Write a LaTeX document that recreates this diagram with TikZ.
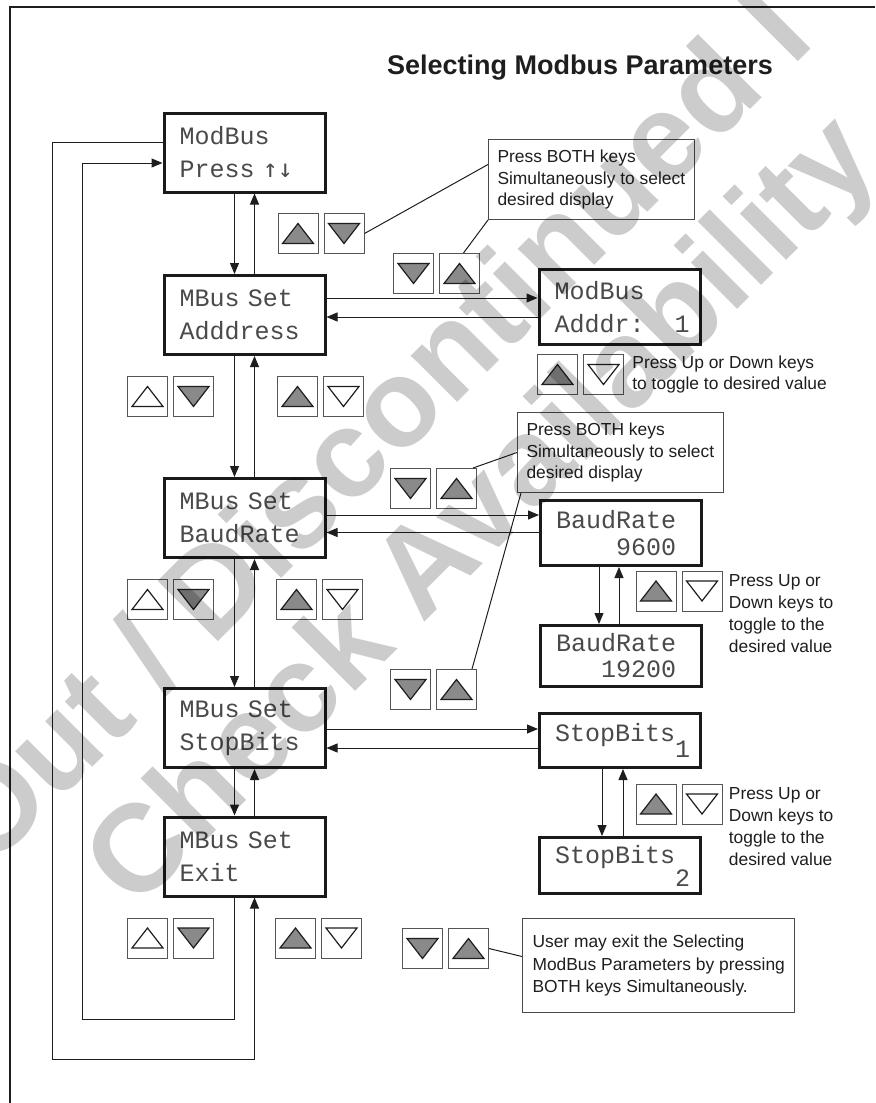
\documentclass[tikz,border=0pt]{standalone}
\usepackage{fontspec}
\setmainfont{Liberation Sans}
\newfontfamily\lcdfont{Liberation Mono}
\newfontfamily\arrowfont{DejaVu Sans Mono}
\usetikzlibrary{arrows.meta,positioning}
\definecolor{LineDark}{HTML}{1E1E1E}
\definecolor{LcdEdge}{HTML}{1A1A1A}
\definecolor{LcdText}{HTML}{4A4A4A}
\definecolor{KeyEdge}{HTML}{555555}
\definecolor{KeyFill}{HTML}{8A8A8A}
\definecolor{NoteEdge}{HTML}{4A4A4A}

\begin{document}
\begin{tikzpicture}[x=0.5pt,y=-0.5pt,
  lcd/.style={draw=LcdEdge,line width=1.5pt,fill=white,minimum width=80pt,minimum height=39.5pt,
    inner xsep=7.75pt,inner ysep=0pt,text width=65pt,align=left,text=LcdText,
    font=\lcdfont\fontsize{12.5}{16.5}\selectfont},
  keysq/.style={draw=KeyEdge,line width=0.5pt,fill=white,minimum size=20pt,inner sep=0pt},
  tri/.style={draw=LineDark,line width=0.6pt},
  upkey/.style={keysq,path picture={\filldraw[tri,fill=#1]
    ([shift={(-7.75pt,-5pt)}]path picture bounding box.center) -- ++(15.5pt,0pt) -- ++(-7.75pt,10pt) -- cycle;}},
  dnkey/.style={keysq,path picture={\filldraw[tri,fill=#1]
    ([shift={(-7.75pt,5pt)}]path picture bounding box.center) -- ++(15.5pt,0pt) -- ++(-7.75pt,-10pt) -- cycle;}},
  note/.style={draw=NoteEdge,line width=0.5pt,align=left,inner xsep=4.5pt,text=LineDark,
    font=\fontsize{8.7}{10.9}\selectfont},
  hint/.style={align=left,inner sep=0pt,text=LineDark,font=\fontsize{8.7}{10.9}\selectfont},
  arr/.style={-{Triangle[length=5.5pt,width=4.5pt]},draw=LineDark,line width=0.5pt},
  lead/.style={draw=LineDark,line width=0.5pt},
  pageedge/.style={draw=LineDark,line width=1.2pt},
  wm/.style={text=black,text opacity=0.2,inner sep=0pt,font=\fontsize{62}{62}\selectfont\bfseries}
]
\useasboundingbox (0,0) rectangle (875,1103);
\draw[pageedge] (10,1103) -- (10,7) -- (875,7);
\node[font=\fontsize{13.5}{16}\selectfont\bfseries,text=LineDark] (title) at (580,68) {Selecting Modbus Parameters};

% main menu column
\node[lcd] (b1) at (244.5,152.5) {ModBus\\Press {\arrowfont ↑↓}};
\node[lcd] (b2) at (244.5,315) {MBus Set\\Adddress};
\node[lcd] (b3) at (244.5,518) {MBus Set\\BaudRate};
\node[lcd] (b4) at (244.5,728) {MBus Set\\StopBits};
\node[lcd] (b5) at (244.5,856.5) {MBus Set\\Exit};

% value displays
\node[lcd,minimum height=37.5pt] (addr) at (619.5,307) {ModBus\\Adddr:\phantom{xx}1};
\node[lcd,minimum height=32.5pt,font=\lcdfont\fontsize{12.5}{13.5}\selectfont] (baudA) at (621,533) {BaudRate\\\phantom{Baud}9600};
\node[lcd,minimum height=30.5pt,font=\lcdfont\fontsize{12.5}{13}\selectfont] (baudB) at (621,656) {BaudRate\\\phantom{Bau}19200};
\node[lcd,minimum height=27pt] (stopA) at (620,740.5) {StopBits\raisebox{-8pt}{1}};
\node[lcd,minimum height=28pt] (stopB) at (620,865.5) {StopBits\raisebox{-11.5pt}{2}};

% keys
\node[upkey=KeyFill] (kAu) at (298,233.5) {};
\node[dnkey=KeyFill,right=2.5pt of kAu] (kAd) {};
\node[dnkey=KeyFill] (kBd) at (413.5,273.5) {};
\node[upkey=KeyFill,right=2.5pt of kBd] (kBu) {};
\node[upkey=white] (kL1u) at (147.5,396.5) {};
\node[dnkey=KeyFill,right=2.5pt of kL1u] (kL1d) {};
\node[upkey=KeyFill] (kR1u) at (297.5,396.5) {};
\node[dnkey=white,right=2.5pt of kR1u] (kR1d) {};
\node[upkey=white] (kL2u) at (147.5,599.5) {};
\node[dnkey=KeyFill,right=2.5pt of kL2u] (kL2d) {};
\node[upkey=KeyFill] (kR2u) at (296.5,599.5) {};
\node[dnkey=white,right=2.5pt of kR2u] (kR2d) {};
\node[upkey=white] (kL3u) at (147.5,938) {};
\node[dnkey=KeyFill,right=2.5pt of kL3u] (kL3d) {};
\node[upkey=KeyFill] (kR3u) at (295.5,938) {};
\node[dnkey=white,right=2.5pt of kR3u] (kR3d) {};
\node[dnkey=KeyFill] (kCd) at (410.5,488.5) {};
\node[upkey=KeyFill,right=2.5pt of kCd] (kCu) {};
\node[dnkey=KeyFill] (kDd) at (410.5,689.5) {};
\node[upkey=KeyFill,right=2.5pt of kDd] (kDu) {};
\node[upkey=KeyFill] (kEu) at (557.5,374.5) {};
\node[dnkey=white,right=2.5pt of kEu] (kEd) {};
\node[upkey=KeyFill] (kFu) at (656,591) {};
\node[dnkey=white,right=2.5pt of kFu] (kFd) {};
\node[upkey=KeyFill] (kGu) at (656,804) {};
\node[dnkey=white,right=2.5pt of kGu] (kGd) {};
\node[dnkey=KeyFill] (kHd) at (422.5,948.5) {};
\node[upkey=KeyFill,right=2.5pt of kHd] (kHu) {};

% notes
\node[note,anchor=north west,minimum height=40pt] (note1) at (488,139)
  {Press BOTH keys\\Simultaneously to select\\desired display};
\node[note,anchor=north west,minimum height=40pt] (note2) at (517,412)
  {Press BOTH keys\\Simultaneously to select\\desired display};
\node[note,anchor=north west,minimum height=47pt,inner xsep=5pt,font=\fontsize{8.7}{11.2}\selectfont] (note3) at (522,918)
  {User may exit the Selecting\\ModBus Parameters by pressing\\BOTH keys Simultaneously.};
\node[hint,right=4pt of kEd] (hintE) {Press Up or Down keys\\to toggle to desired value};
\node[hint,right=3pt of kFd.north east,anchor=north west,yshift=-2pt] (hintF)
  {Press Up or\\Down keys to\\toggle to the\\desired value};
\node[hint,right=3pt of kGd.north east,anchor=north west,yshift=-2pt] (hintG)
  {Press Up or\\Down keys to\\toggle to the\\desired value};

% connectors
\foreach \u/\l in {b1/b2,b2/b3,b3/b4,b4/b5} {
  \draw[arr] ([xshift=-5pt]\u.south) -- ([xshift=-5pt]\l.north);
  \draw[arr] ([xshift=5pt]\l.north) -- ([xshift=5pt]\u.south);
}
\draw[arr] ([yshift=8.5pt]b2.east) -- ([yshift=8.5pt]b2.east -| addr.west);
\draw[arr] ([yshift=-1pt]b2.east -| addr.west) -- ([yshift=-1pt]b2.east);
\draw[arr] ([yshift=1.5pt]b3.east) -- ([yshift=1.5pt]b3.east -| baudA.west);
\draw[arr] ([yshift=-7.25pt]b3.east -| baudA.west) -- ([yshift=-7.25pt]b3.east);
\draw[arr] ([yshift=-0.5pt]b4.east) -- ([yshift=-0.5pt]b4.east -| stopA.west);
\draw[arr] ([yshift=-10pt]b4.east -| stopA.west) -- ([yshift=-10pt]b4.east);
\draw[arr] ([xshift=-11pt]baudA.south) -- ([xshift=-11pt]baudA.south |- baudB.north);
\draw[arr] ([xshift=-1pt]baudA.south |- baudB.north) -- ([xshift=-1pt]baudA.south);
\draw[arr] ([xshift=-9pt]stopA.south) -- ([xshift=-9pt]stopA.south |- stopB.north);
\draw[arr] ([xshift=1.5pt]stopA.south |- stopB.north) -- ([xshift=1.5pt]stopA.south);
\coordinate (loopO) at (52,1059);
\coordinate (loopI) at (82,1019);
\draw[arr] ([yshift=5.25pt]b1.west) -| (loopO) -| ([xshift=5pt]b5.south);
\draw[arr] ([xshift=-5pt]b5.south) |- (loopI) |- ([yshift=-5.25pt]b1.west);
\draw[lead] (kAd.east) -- ([yshift=7.5pt]note1.west);
\draw[lead] ([xshift=2pt]kBu.north) -- (note1.south west);
\draw[lead] ([xshift=-2pt]kCu.north east) -- (note2.west);
\draw[lead] ([xshift=2pt]note2.south west) -- ([xshift=-2.5pt]kDu.north east);
\draw[lead] (kHu.east) -- ([yshift=4.5pt]note3.west);

% watermark
\begin{scope}
\clip (0,0) rectangle (875,1103);
\node[wm,rotate=45,anchor=base west] (wmA) at (-12,872) {Out / Discontinued I};
\node[wm,rotate=45,anchor=base west] (wmB) at (135,912) {Check Availability};
\end{scope}
\end{tikzpicture}
\end{document}
